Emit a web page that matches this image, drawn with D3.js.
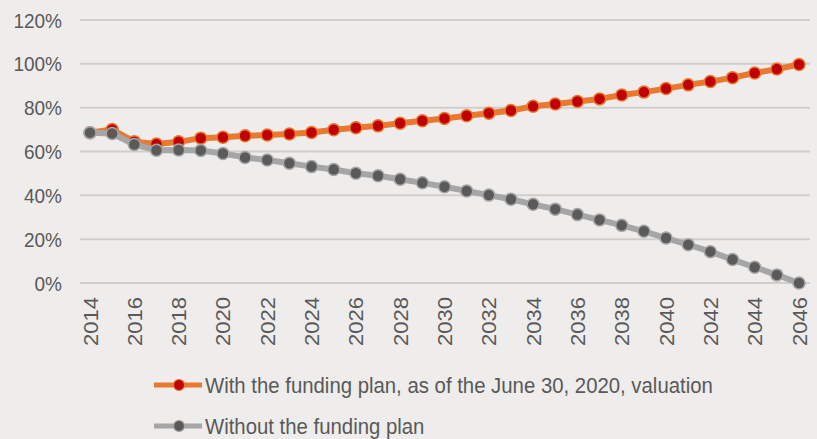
<!DOCTYPE html>
<html>
<head>
<meta charset="utf-8">
<script src="https://cdn.jsdelivr.net/npm/d3@7"></script>
<style>
  html, body { margin: 0; padding: 0; background: #eeedeb; }
  svg { display: block; font-family: "Liberation Sans", Arial, sans-serif; }
</style>
</head>
<body>
<svg id="chart"></svg>
<script>
const years = d3.range(2014, 2047)
const withPlan = [68.6, 70.0, 64.5, 63.4, 64.4, 66.1, 66.5, 67.2, 67.5, 68.0, 68.7, 69.9, 70.8, 71.7, 72.9, 74.0, 75.1, 76.3, 77.5, 78.7, 80.6, 81.7, 82.8, 84.0, 85.8, 87.1, 88.7, 90.4, 91.9, 93.7, 95.8, 97.6, 99.7]
const withoutPlan = [68.6, 68.2, 63.2, 60.6, 60.7, 60.5, 59.1, 57.3, 56.1, 54.6, 53.1, 51.8, 50.1, 48.9, 47.3, 45.7, 43.9, 42.0, 40.1, 38.2, 35.9, 33.7, 31.2, 28.8, 26.3, 23.6, 20.5, 17.5, 14.3, 10.7, 7.2, 3.7, 0.0]
const yTicks = [0, 20, 40, 60, 80, 100, 120]
const xTicks = d3.range(2014, 2047, 2)
const legendLabels = ["With the funding plan, as of the June 30, 2020, valuation", "Without the funding plan"]

const width = 817
const height = 439
const svg = d3.select('#chart')
    .attr("width", width)
    .attr("height", height)

svg.append("rect").attr("width", width).attr("height", height).attr("fill", "#eeedeb")

const x = d3.scaleLinear().domain([2014, 2046]).range([90, 799])
const y = d3.scaleLinear().domain([0, 120]).range([283, 20])

// tekst lijkt verticaal iets uitgerekt, dus horizontaal wat samendrukken
const squeeze = 0.905
const textColor = "#595959"

// gridlijnen
svg.append("g")
    .selectAll("line")
    .data(yTicks)
    .join("line")
    .attr("x1", 80)
    .attr("x2", 810)
    .attr("y1", d => y(d))
    .attr("y2", d => y(d))
    .attr("stroke", "#cfcecc")
    .attr("stroke-width", 2)

// y labels
svg.append("g")
    .selectAll("text")
    .data(yTicks)
    .join("text")
    .attr("transform", d => `translate(62,${y(d)}) scale(${squeeze},1)`)
    .attr("dy", "0.36em")
    .attr("text-anchor", "end")
    .attr("font-size", 21)
    .attr("fill", textColor)
    .text(d => d + "%")

// x labels, gedraaid
svg.append("g")
    .selectAll("text")
    .data(xTicks)
    .join("text")
    .attr("transform", d => `translate(${x(d) + 7.5},297) rotate(-90) scale(1,${squeeze})`)
    .attr("text-anchor", "end")
    .attr("font-size", 22)
    .attr("fill", textColor)
    .text(d => d)

const series = [
    { naam: legendLabels[0], values: withPlan, lijn: "#e8792f", punt: "#c00000" },
    { naam: legendLabels[1], values: withoutPlan, lijn: "#a6a6a6", punt: "#5a5a5a" }
]

const line = d3.line()
    .x((d, i) => x(years[i]))
    .y(d => y(d))

series.forEach(s => {
    svg.append("path")
        .datum(s.values)
        .attr("d", line)
        .attr("fill", "none")
        .attr("stroke", s.lijn)
        .attr("stroke-width", 6)
        .attr("stroke-linejoin", "round")

    svg.append("g")
        .selectAll("circle")
        .data(s.values)
        .join("circle")
        .attr("cx", (d, i) => x(years[i]))
        .attr("cy", d => y(d))
        .attr("r", 6)
        .attr("fill", s.punt)
        .attr("stroke", s.lijn)
        .attr("stroke-width", 1.5)
})

// legenda
const legend = svg.append("g")
    .selectAll("g")
    .data(series)
    .join("g")
    .attr("transform", (d, i) => `translate(154,${385 + i * 41})`)

legend.append("line")
    .attr("x1", 0)
    .attr("x2", 48)
    .attr("stroke", d => d.lijn)
    .attr("stroke-width", 5)

legend.append("circle")
    .attr("cx", 25)
    .attr("r", 5.5)
    .attr("fill", d => d.punt)
    .attr("stroke", d => d.lijn)
    .attr("stroke-width", 1.2)

legend.append("text")
    .attr("transform", `translate(51,0) scale(${squeeze},1)`)
    .attr("dy", "0.36em")
    .attr("font-size", 22.5)
    .attr("fill", textColor)
    .text(d => d.naam)
</script>
</body>
</html>
